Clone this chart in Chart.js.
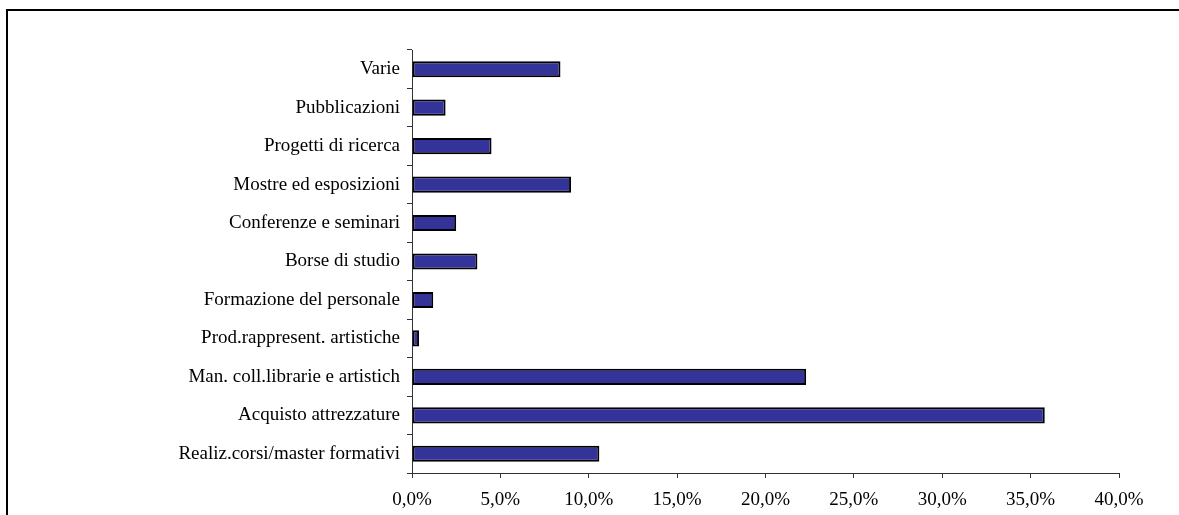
<!DOCTYPE html>
<html>
<head>
<meta charset="utf-8">
<script src="https://cdn.jsdelivr.net/npm/chart.js@4/dist/chart.umd.min.js"></script>
<style>
  html, body { margin: 0; padding: 0; background: #fff; }
  body { width: 1179px; height: 515px; overflow: hidden; position: relative; }
  #frame { position: absolute; left: 6px; top: 9px; width: 1200px; height: 540px; border: 2px solid #000; box-sizing: border-box; }
  #chart { position: absolute; left: 0; top: 0; }
</style>
</head>
<body>
<div id="frame"></div>
<canvas id="chart" width="1179" height="515"></canvas>
<script>
const categories = [
  'Varie',
  'Pubblicazioni',
  'Progetti di ricerca',
  'Mostre ed esposizioni',
  'Conferenze e seminari',
  'Borse di studio',
  'Formazione del personale',
  'Prod.rappresent. artistiche',
  'Man. coll.librarie e artistich',
  'Acquisto attrezzature',
  'Realiz.corsi/master formativi'
];
const shares = [8.4, 1.9, 4.5, 9.0, 2.5, 3.7, 1.2, 0.4, 22.3, 35.8, 10.6];
const xTicks = [0, 5, 10, 15, 20, 25, 30, 35, 40];

const serif = '"Liberation Serif", "DejaVu Serif", serif';

new Chart(document.getElementById('chart'), {
  type: 'bar',
  data: {
    labels: categories,
    datasets: [{
      data: shares,
      backgroundColor: '#333399',
      borderColor: '#000000',
      borderWidth: 2,
      borderSkipped: false,
      categoryPercentage: 1,
      barPercentage: 0.42
    }]
  },
  options: {
    indexAxis: 'y',
    responsive: false,
    animation: false,
    devicePixelRatio: 1,
    layout: { padding: { top: 50, right: 60, left: 0, bottom: 0 } },
    plugins: { legend: { display: false }, tooltip: { enabled: false } },
    scales: {
      x: {
        min: 0,
        max: 40,
        afterBuildTicks: axis => { axis.ticks = xTicks.map(v => ({ value: v })); },
        afterFit: axis => { axis.height = 42; },
        grid: { drawOnChartArea: false, drawTicks: true, tickLength: 5, color: '#333' },
        border: { color: '#333', width: 1 },
        ticks: {
          color: '#000',
          padding: 11,
          maxRotation: 0,
          font: { family: serif, size: 19 },
          callback: v => v.toFixed(1).replace('.', ',') + '%'
        }
      },
      y: {
        afterFit: axis => { axis.width = 412; },
        grid: { drawOnChartArea: false, drawTicks: true, tickLength: 5, color: '#333', offset: true },
        border: { color: '#333', width: 1 },
        ticks: {
          color: '#000',
          padding: 7,
          font: { family: serif, size: 19 }
        }
      }
    }
  }
});
</script>
</body>
</html>
